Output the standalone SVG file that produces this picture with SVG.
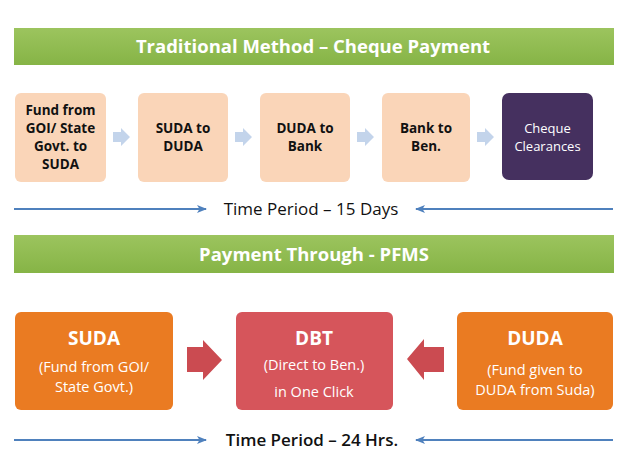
<svg xmlns="http://www.w3.org/2000/svg" width="621" height="450" viewBox="0 0 621 450">
<defs>
<linearGradient id="gb" x1="0" y1="0" x2="0" y2="1"><stop offset="0" stop-color="#9CC45E"/><stop offset="1" stop-color="#86B446"/></linearGradient>
<marker id="ah" markerWidth="10" markerHeight="8" refX="9" refY="4" orient="auto" markerUnits="userSpaceOnUse"><path d="M0,0 L10,4 L0,8 L2.5,4 Z" fill="#4F81BD"/></marker>
<style>
.banner{fill:url(#gb)}
.bt{font-family:"Open Sans","Liberation Sans",sans-serif;font-weight:bold;font-size:18.5px;fill:#fff;text-anchor:middle}
.peach{fill:#FAD5B8}
.pt{font-family:"Open Sans","Liberation Sans",sans-serif;font-weight:bold;font-size:13.5px;fill:#111;text-anchor:middle}
.wt{font-family:"Open Sans","Liberation Sans",sans-serif;font-size:13px;fill:#fff;text-anchor:middle}
.big{font-family:"Open Sans","Liberation Sans",sans-serif;font-weight:bold;font-size:19px;fill:#fff;text-anchor:middle}
.sm{font-family:"Open Sans","Liberation Sans",sans-serif;font-size:14.5px;fill:#fff;text-anchor:middle}
.tp{font-family:"Open Sans","Liberation Sans",sans-serif;font-size:17px;fill:#111;text-anchor:middle}
.line{stroke:#4F81BD;stroke-width:2;fill:none;marker-end:url(#ah)}
.chev{fill:#C3D4EB}
.red{fill:#CB4B51}
</style>
</defs>
<rect width="621" height="450" fill="#fff"/>
<g id="banner1"><rect class="banner" x="14" y="28" width="600" height="37"/><text class="bt" x="313" y="53">Traditional Method – Cheque Payment</text></g>
<g id="n1"><rect class="peach" x="15" y="93" width="91" height="89" rx="6"/>
<text class="pt" x="60.5" y="115">Fund from</text><text class="pt" x="60.5" y="133">GOI/ State</text><text class="pt" x="60.5" y="151">Govt. to</text><text class="pt" x="60.5" y="169">SUDA</text></g>
<g id="n2"><rect class="peach" x="138" y="93" width="90" height="89" rx="6"/>
<text class="pt" x="183" y="133">SUDA to</text><text class="pt" x="183" y="151">DUDA</text></g>
<g id="n3"><rect class="peach" x="260" y="93" width="90" height="89" rx="6"/>
<text class="pt" x="305" y="133">DUDA to</text><text class="pt" x="305" y="151">Bank</text></g>
<g id="n4"><rect class="peach" x="382" y="93" width="88" height="89" rx="6"/>
<text class="pt" x="426" y="133">Bank to</text><text class="pt" x="426" y="151">Ben.</text></g>
<g id="n5"><rect x="502" y="93" width="91" height="87" rx="7" fill="#45305F"/>
<text class="wt" x="547.5" y="133">Cheque</text><text class="wt" x="547.5" y="151">Clearances</text></g>
<g id="banner2"><rect class="banner" x="14" y="235" width="600" height="38"/><text class="bt" x="314" y="261">Payment Through - PFMS</text></g>
<g id="s1"><rect x="15" y="312" width="158" height="98" rx="6" fill="#EA7B22"/>
<text class="big" x="94" y="345">SUDA</text><text class="sm" x="94" y="372">(Fund from GOI/</text><text class="sm" x="94" y="392">State Govt.)</text></g>
<g id="s2"><rect x="236" y="312" width="157" height="98" rx="6" fill="#D6555B"/>
<text class="big" x="314" y="345">DBT</text><text class="sm" x="314" y="370">(Direct to Ben.)</text><text class="sm" x="314" y="397">in One Click</text></g>
<g id="s3"><rect x="457" y="312" width="156" height="98" rx="6" fill="#EA7B22"/>
<text class="big" x="535" y="345">DUDA</text><text class="sm" x="535" y="375">(Fund given to</text><text class="sm" x="535" y="395">DUDA from Suda)</text></g>
<g id="connectors">
<path class="chev" d="M113,132 L121,132 L121,128 L130,137 L121,146 L121,142 L113,142 Z"/>
<path class="chev" d="M235,132 L243,132 L243,128 L252,137 L243,146 L243,142 L235,142 Z"/>
<path class="chev" d="M357,132 L365,132 L365,128 L374,137 L365,146 L365,142 L357,142 Z"/>
<path class="chev" d="M477,132 L485,132 L485,128 L494,137 L485,146 L485,142 L477,142 Z"/>
<path class="red" d="M187,347 L203,347 L203,340 L222,360 L203,380 L203,372 L187,372 Z"/>
<path class="red" d="M444,347 L424,347 L424,339 L407,359 L424,380 L424,372 L444,372 Z"/>
<line class="line" x1="14" y1="209" x2="206" y2="209"/>
<line class="line" x1="613" y1="209" x2="416" y2="209"/>
<line class="line" x1="14" y1="440" x2="206" y2="440"/>
<line class="line" x1="613" y1="440" x2="416" y2="440"/>
</g>
<text class="tp" x="311" y="215">Time Period – 15 Days</text>
<text class="tp" x="312" y="446" font-weight="600">Time Period – 24 Hrs.</text>
</svg>
